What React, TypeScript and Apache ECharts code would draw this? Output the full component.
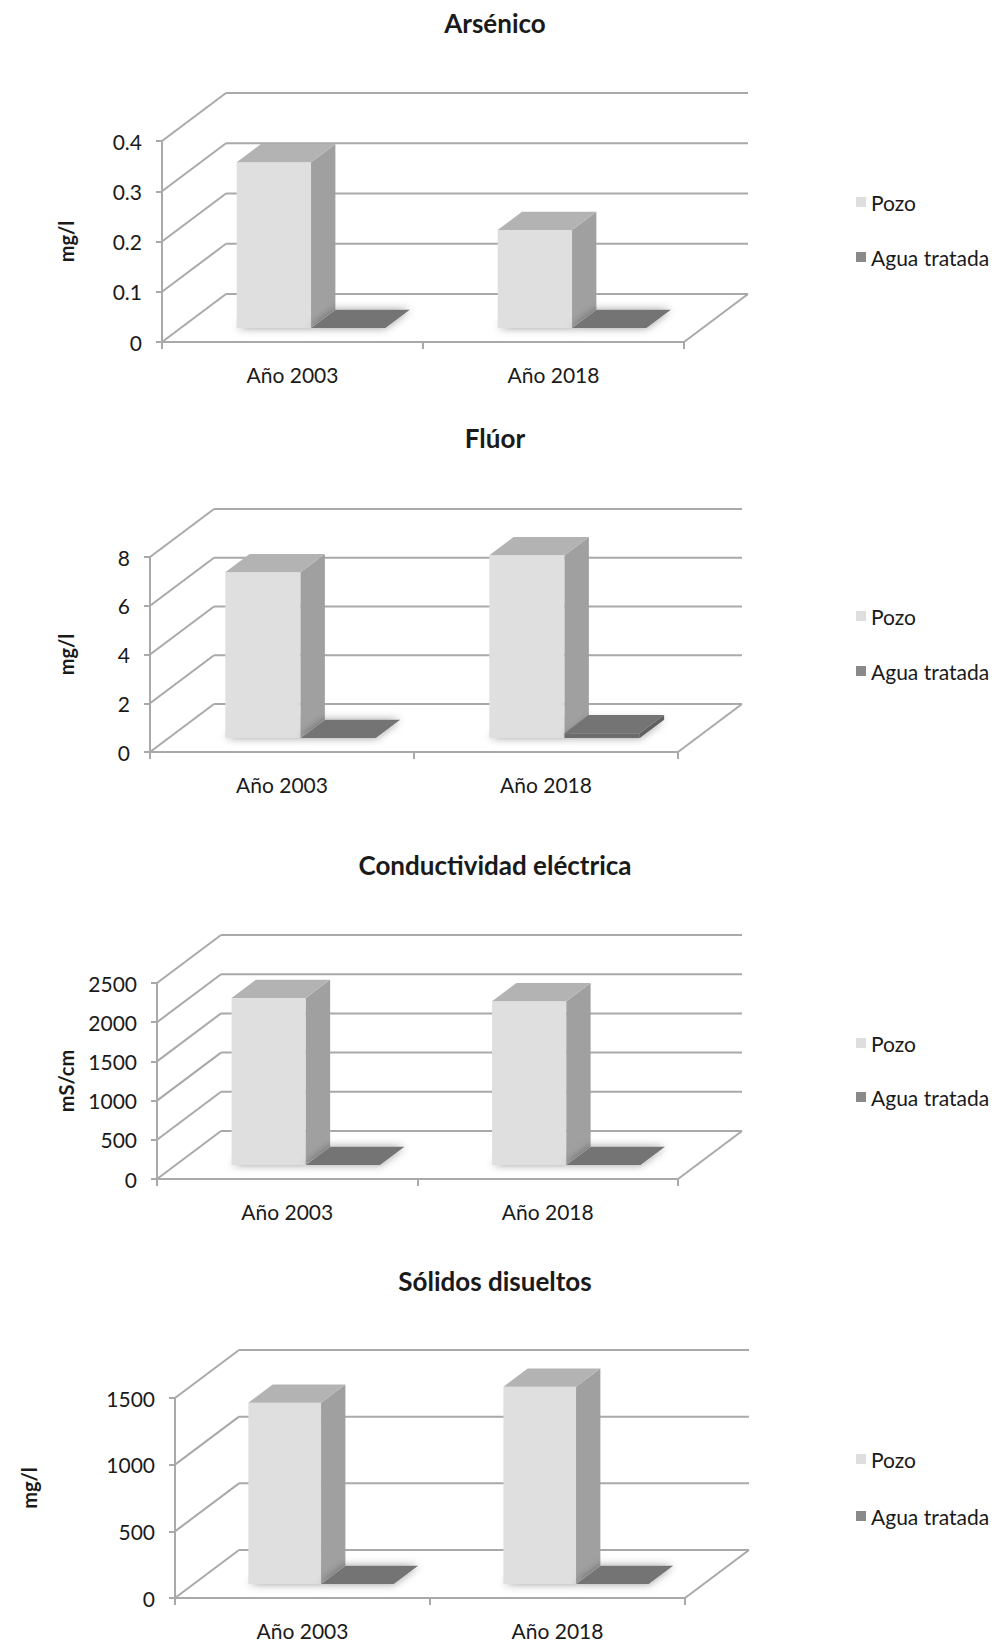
import React, { useEffect, useRef } from 'react';
import * as echarts from 'echarts';

// ---------- data ----------
const CATEGORIES = ['Año 2003', 'Año 2018'];
const SERIES_NAMES = ['Pozo', 'Agua tratada'];
const TITLES = ['Arsénico', 'Flúor', 'Conductividad eléctrica', 'Sólidos disueltos'];
const UNITS = ['mg/l', 'mg/l', 'mS/cm', 'mg/l'];

const ARSENICO_POZO = [0.33, 0.195];
const ARSENICO_AGUA = [0, 0];
const FLUOR_POZO = [6.8, 7.5];
const FLUOR_AGUA = [0, 0.2];
const CONDUCTIVIDAD_POZO = [2130, 2090];
const CONDUCTIVIDAD_AGUA = [0, 0];
const SOLIDOS_POZO = [1360, 1480];
const SOLIDOS_AGUA = [0, 0];

const ARSENICO_TICKS = [0, 0.1, 0.2, 0.3, 0.4];
const FLUOR_TICKS = [0, 2, 4, 6, 8];
const CONDUCTIVIDAD_TICKS = [0, 500, 1000, 1500, 2000, 2500];
const SOLIDOS_TICKS = [0, 500, 1000, 1500];

const VALUES = [
  [ARSENICO_POZO, ARSENICO_AGUA],
  [FLUOR_POZO, FLUOR_AGUA],
  [CONDUCTIVIDAD_POZO, CONDUCTIVIDAD_AGUA],
  [SOLIDOS_POZO, SOLIDOS_AGUA],
];
const TICKS = [ARSENICO_TICKS, FLUOR_TICKS, CONDUCTIVIDAD_TICKS, SOLIDOS_TICKS];

// ---------- layout / style ----------
const LAYOUT = [
  { left: 162, right: 684, top: 141, bottom: 342, titleTop: 5, legendTop: 185, legendGap: 31, nameGap: 86, namePad: 0 },
  { left: 150, right: 678, top: 557, bottom: 752, titleTop: 420, legendTop: 599, legendGap: 31, nameGap: 74, namePad: 0 },
  { left: 157, right: 678, top: 983, bottom: 1179, titleTop: 847, legendTop: 1026, legendGap: 30, nameGap: 81, namePad: 0 },
  { left: 175, right: 685, top: 1398, bottom: 1598, titleTop: 1263, legendTop: 1442, legendGap: 33, nameGap: 136, namePad: 20 },
];
const DX = 64;
const DY = -48;
const FRONT = 0.29;
const DEPTH = 0.38;
const BAR_W = 0.285;
const FONT = 'Lato, "Open Sans", sans-serif';
const LINE = '#a9a9a9';
const TEXT = '#1a1a1a';
const FACE = [
  { front: '#dfdfdf', top: '#b3b3b3', side: '#a0a0a0', legend: '#dedede' },
  { front: '#6c6c6c', top: '#747474', side: '#606060', legend: '#8a8a8a' },
];

function fmt(v: number) {
  return String(Number(Number(v).toPrecision(8)));
}

function wallRender(params: any, api: any) {
  const t = api.value(1);
  const cs = params.coordSys;
  const y = api.coord([0, t])[1];
  const xl = cs.x;
  const xr = cs.x + cs.width;
  const style = { stroke: LINE, lineWidth: 2, fill: 'none' };
  const children: any[] = [
    { type: 'line', shape: { x1: xl, y1: y, x2: xl + DX, y2: y + DY }, style },
    { type: 'line', shape: { x1: xl + DX, y1: y + DY, x2: xr + DX, y2: y + DY }, style },
  ];
  if (t === 0) {
    children.push({ type: 'line', shape: { x1: xr, y1: y, x2: xr + DX, y2: y + DY }, style });
  }
  return { type: 'group', children };
}

function barRender(seriesIdx: number) {
  return (params: any, api: any) => {
    const cat = api.value(0);
    const val = api.value(1);
    const base = api.coord([cat, 0]);
    const top = api.coord([cat, val]);
    const W = api.size([1, 0])[0];
    const bw = W * BAR_W;
    const cx = base[0] + DX * FRONT;
    const x0 = seriesIdx === 0 ? cx - bw : cx;
    const x1 = x0 + bw;
    const yb = base[1] + DY * FRONT;
    const yt = top[1] + DY * FRONT;
    const bdx = DX * DEPTH;
    const bdy = DY * DEPTH;
    const c = FACE[seriesIdx];
    const children: any[] = [
      {
        type: 'polygon',
        shape: { points: [[x0, yb], [x1, yb], [x1 + bdx, yb + bdy], [x0 + bdx, yb + bdy]] },
        style: { fill: '#d4d4d4', shadowBlur: 9, shadowColor: 'rgba(0,0,0,0.4)' },
      },
    ];
    if (yb - yt > 0.5) {
      children.push({
        type: 'polygon',
        shape: { points: [[x0, yb], [x1, yb], [x1, yt], [x0, yt]] },
        style: { fill: c.front },
      });
      children.push({
        type: 'polygon',
        shape: { points: [[x1, yt], [x1 + bdx, yt + bdy], [x1 + bdx, yb + bdy], [x1, yb]] },
        style: { fill: c.side },
      });
    }
    children.push({
      type: 'polygon',
      shape: { points: [[x0, yt], [x1, yt], [x1 + bdx, yt + bdy], [x0 + bdx, yt + bdy]] },
      style: { fill: c.top },
    });
    return { type: 'group', children };
  };
}

function buildOption() {
  const title: any[] = [];
  const grid: any[] = [];
  const xAxis: any[] = [];
  const yAxis: any[] = [];
  const legend: any[] = [];
  const series: any[] = [];

  LAYOUT.forEach((L, i) => {
    const ticks = TICKS[i];
    title.push({
      text: TITLES[i],
      left: 490,
      textAlign: 'center',
      top: L.titleTop,
      textStyle: { fontFamily: FONT, fontSize: 26, fontWeight: 'bold', color: TEXT },
    });
    grid.push({ left: L.left, top: L.top, width: L.right - L.left, height: L.bottom - L.top });
    xAxis.push({
      type: 'category',
      gridIndex: i,
      data: CATEGORIES,
      boundaryGap: true,
      axisLine: { show: true, lineStyle: { color: LINE, width: 2 } },
      axisTick: { show: true, length: 7, lineStyle: { color: LINE, width: 2 } },
      axisLabel: { margin: 22, fontFamily: FONT, fontSize: 21, color: TEXT },
      splitLine: { show: false },
    });
    yAxis.push({
      type: 'value',
      gridIndex: i,
      min: 0,
      max: ticks[ticks.length - 1],
      interval: ticks[1] - ticks[0],
      axisLine: { show: true, lineStyle: { color: LINE, width: 2 } },
      axisTick: { show: true, length: 6, lineStyle: { color: LINE, width: 2 } },
      axisLabel: { margin: 20, fontFamily: FONT, fontSize: 21, color: TEXT, formatter: fmt },
      splitLine: { show: false },
      name: UNITS[i],
      nameLocation: 'middle',
      nameGap: L.nameGap,
      nameTextStyle: {
        fontFamily: FONT,
        fontSize: 20,
        fontWeight: 'bold',
        color: TEXT,
        padding: [0, 0, 0, L.namePad],
      },
    });
    legend.push({
      orient: 'vertical',
      left: 851,
      top: L.legendTop,
      itemWidth: 10,
      itemHeight: 10,
      itemGap: L.legendGap,
      icon: 'rect',
      selectedMode: false,
      data: SERIES_NAMES,
      textStyle: { fontFamily: FONT, fontSize: 21, lineHeight: 24, color: TEXT },
    });
    series.push({
      type: 'custom',
      xAxisIndex: i,
      yAxisIndex: i,
      z: 1,
      silent: true,
      renderItem: wallRender,
      data: ticks.map((t) => [0, t]),
      encode: { x: 0, y: 1 },
    });
    SERIES_NAMES.forEach((name, s) => {
      series.push({
        type: 'custom',
        name,
        xAxisIndex: i,
        yAxisIndex: i,
        z: 2 + s,
        itemStyle: { color: FACE[s].legend },
        renderItem: barRender(s),
        data: VALUES[i][s].map((v, k) => [k, v]),
        encode: { x: 0, y: 1 },
      });
    });
  });

  return { animation: false, backgroundColor: '#ffffff', title, grid, xAxis, yAxis, legend, series };
}

export default function App() {
  const ref = useRef<HTMLDivElement>(null);
  useEffect(() => {
    if (!ref.current) return;
    const chart = echarts.init(ref.current, undefined, { renderer: 'svg' });
    chart.setOption(buildOption() as any);
    return () => chart.dispose();
  }, []);
  return (
    <div
      ref={ref}
      style={{ position: 'absolute', left: 0, top: 0, width: 1000, height: 1644, background: '#fff' }}
    />
  );
}
